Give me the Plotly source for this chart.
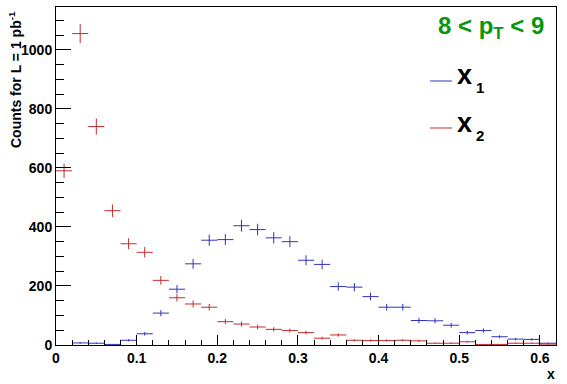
import numpy as np
import plotly.graph_objects as go

# bin centres (bin width 0.02)
bin_centers = [0.01, 0.03, 0.05, 0.07, 0.09, 0.11, 0.13, 0.15, 0.17, 0.19,
               0.21, 0.23, 0.25, 0.27, 0.29, 0.31, 0.33, 0.35, 0.37, 0.39,
               0.41, 0.43, 0.45, 0.47, 0.49, 0.51, 0.53, 0.55, 0.57, 0.59, 0.61]
bin_half_width = 0.01

x1_counts = [None, 7, 6, 2, 16, 38, 108, 189, 275, 355,
             357, 404, 391, 363, 350, 287, 273, 198, 196, 164,
             128, 128, 83, 82, 67, 42, 49, 28, 20, 19, 6]
x2_counts = [590, 1055, 740, 455, 343, 314, 219, 160, 139, 128,
             79, 71, 61, 53, 49, 42, 23, 34, 16, 15,
             15, 16, 14, 6, 6, 11, 2, 2, 6, 6, 3]

x_ticks = [0, 0.1, 0.2, 0.3, 0.4, 0.5, 0.6]
y_ticks = [0, 200, 400, 600, 800, 1000]

BLUE = "rgb(50,50,190)"
RED = "rgb(190,45,45)"
GREEN = "rgb(10,150,10)"
FONT = "Liberation Sans, Arial, Helvetica, sans-serif"


def errs(vals):
    return [None if v is None else float(np.sqrt(v)) for v in vals]


fig = go.Figure()
for name, vals, col in [("x1", x1_counts, BLUE), ("x2", x2_counts, RED)]:
    fig.add_trace(go.Scatter(
        x=bin_centers, y=vals, mode="markers", name=name,
        marker=dict(size=1, opacity=0, color=col),
        error_x=dict(type="constant", value=bin_half_width, width=0,
                     thickness=1, color=col),
        error_y=dict(type="data", array=errs(vals), width=0,
                     thickness=1, color=col),
        showlegend=False, hoverinfo="skip",
    ))

W, H = 567, 384
L, R, T, B = 56, 11, 7, 39
pw, ph = W - L - R, H - T - B


def px(xp):
    return (xp - L) / pw


def py(yp):
    return (H - B - yp) / ph


fig.update_layout(
    template="none",
    width=W, height=H,
    margin=dict(l=L, r=R, t=T, b=B, pad=0),
    paper_bgcolor="white", plot_bgcolor="white",
    font=dict(family=FONT, color="black"),
    xaxis=dict(range=[0, 0.62], tickvals=x_ticks, ticks="inside", ticklen=10,
               tickwidth=1, tickcolor="black", showline=True, linecolor="black",
               linewidth=1, mirror=True, showgrid=False, zeroline=False,
               automargin=False,
               tickfont=dict(family=FONT, size=14, weight="bold"),
               minor=dict(dtick=0.02, tick0=0, ticks="inside", ticklen=5,
                          tickwidth=1, tickcolor="black", showgrid=False)),
    yaxis=dict(range=[0, 1145], tickvals=y_ticks, ticks="inside", ticklen=15,
               tickwidth=1, tickcolor="black", showline=True, linecolor="black",
               linewidth=1, mirror=True, showgrid=False, zeroline=False,
               automargin=False,
               tickfont=dict(family=FONT, size=14, weight="bold"),
               minor=dict(dtick=50, tick0=0, ticks="inside", ticklen=7.5,
                          tickwidth=1, tickcolor="black", showgrid=False)),
)

ann = []
# y-axis title
ann.append(dict(text="Counts for L = 1 pb<sup>-1</sup>", textangle=-90,
                xref="paper", yref="paper", x=px(15), y=py(80),
                xanchor="center", yanchor="middle", showarrow=False,
                font=dict(family=FONT, size=14, weight="bold", color="black")))
# x-axis title
ann.append(dict(text="x", xref="paper", yref="paper", x=px(551), y=py(374),
                xanchor="center", yanchor="middle", showarrow=False,
                font=dict(family=FONT, size=14, weight="bold", color="black")))
# pT range label
ann.append(dict(text="8 &lt; p<sub>T</sub> &lt; 9", xref="paper", yref="paper",
                x=px(546), y=py(28), xanchor="right", yanchor="middle",
                showarrow=False,
                font=dict(family=FONT, size=24, weight="bold", color=GREEN)))
# legend texts
for label, sub, yc in [("x", "1", 75), ("x", "2", 123)]:
    ann.append(dict(text=label, xref="paper", yref="paper", x=px(455), y=py(yc),
                    xanchor="left", yanchor="middle", showarrow=False,
                    font=dict(family=FONT, size=27, weight="bold", color="black")))
    ann.append(dict(text=sub, xref="paper", yref="paper", x=px(474), y=py(yc + 12),
                    xanchor="left", yanchor="middle", showarrow=False,
                    font=dict(family=FONT, size=15, weight="bold", color="black")))
fig.update_layout(annotations=ann)

# legend line samples
for col, yc in [(BLUE, 81), (RED, 128)]:
    fig.add_shape(type="line", xref="paper", yref="paper",
                  x0=px(430), x1=px(452), y0=py(yc), y1=py(yc),
                  line=dict(color=col, width=1))

fig.write_html("out.html", config={"displayModeBar": False},
               post_script="document.body.style.margin='0px';")
